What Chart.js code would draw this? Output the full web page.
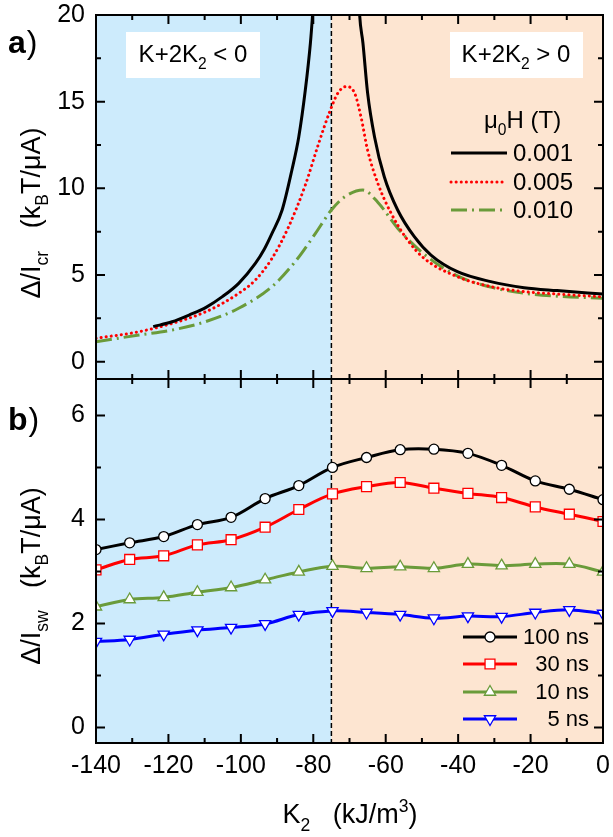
<!DOCTYPE html>
<html>
<head>
<meta charset="utf-8">
<script src="https://cdn.jsdelivr.net/npm/chart.js@4.4.1/dist/chart.umd.min.js"></script>
<style>
  html, body { margin: 0; padding: 0; background: #fff; }
  #wrap { position: relative; width: 613px; height: 837px; overflow: hidden; }
  canvas { position: absolute; left: 0; }
  #chartA { top: 0; }
  #chartB { top: 370px; }
</style>
</head>
<body>
<div id="wrap">
  <canvas id="chartA" width="613" height="400"></canvas>
  <canvas id="chartB" width="613" height="467"></canvas>
</div>
<script>
// shared x axis: K2 (kJ/m3)
const xTicks = [-140, -120, -100, -80, -60, -40, -20, 0];
const yTicksA = [0, 5, 10, 15, 20];
const yTicksB = [0, 2, 4, 6];
const boundaryK2 = -75;

// panel a: critical current curves, one per field mu0H (T)
const fieldLabels = ['0.001', '0.005', '0.010'];
const k2Black = [-124.2, -119, -114.3, -109.5, -105.1, -100.6, -96, -93.5, -91.4, -88.6, -85.9, -84, -82.2, -80.8, -80.2, -79.6,
                 -74,
                 -67.6, -67.2, -66.3, -65, -63.1, -60.4, -56.7, -52.1, -47.5, -40.2, -31, -21.8, -12.7, 0];
const critBlack = [2.02, 2.3, 2.69, 3.15, 3.75, 4.52, 5.67, 6.5, 7.4, 8.75, 11.06, 12.98, 15.67, 18.37, 20, 22,
                   null,
                   22, 20, 18.4, 15.5, 12.98, 10.67, 8.75, 7.21, 6.15, 5.19, 4.62, 4.27, 4.1, 3.9];
const k2Red = [-140, -128.1, -118.9, -109.7, -100.6, -96, -91.4, -86.8, -82.2, -78.5, -75.5, -73.2, -70.9, -68.6, -66.8,
               -65, -62.2, -58.5, -53.9, -49.4, -40.2, -31, -21.8, -12.7, 0];
const critRed = [1.35, 1.73, 2.21, 2.88, 3.94, 4.71, 5.96, 7.79, 10.19, 12.6, 14.4, 15.5, 15.87, 15.5, 14.1,
                 12.2, 10.3, 8.56, 7.0, 5.96, 4.9, 4.33, 4.04, 3.9, 3.74];
const k2Green = [-140, -128.1, -118.9, -109.7, -100.6, -91.4, -85, -79.4, -75, -71.4, -66.3, -62.2, -56.7, -49.4,
                 -40.2, -31, -21.8, -12.7, 0];
const critGreen = [1.15, 1.54, 1.83, 2.31, 3.08, 4.33, 5.77, 7.4, 8.75, 9.5, 9.9, 9.2, 7.7, 6.2,
                   4.95, 4.3, 3.95, 3.78, 3.66];

// panel b: switching current for pulse widths
const pulseLabels = ['100 ns', '30 ns', '10 ns', '5 ns'];
const k2B = [-140, -130.7, -121.3, -112, -102.7, -93.3, -84, -74.7, -65.3, -56, -46.7, -37.3, -28, -18.7, -9.3, 0];
const sw100 = [3.42, 3.55, 3.67, 3.90, 4.04, 4.40, 4.65, 5.00, 5.19, 5.34, 5.35, 5.27, 5.04, 4.74, 4.58, 4.38];
const sw30 = [3.03, 3.23, 3.30, 3.51, 3.61, 3.85, 4.19, 4.49, 4.63, 4.71, 4.60, 4.50, 4.42, 4.24, 4.10, 3.96];
const sw10 = [2.32, 2.46, 2.50, 2.60, 2.69, 2.84, 2.99, 3.10, 3.06, 3.09, 3.06, 3.14, 3.11, 3.14, 3.14, 2.99];
const sw5 = [1.65, 1.69, 1.79, 1.87, 1.92, 1.99, 2.17, 2.24, 2.21, 2.17, 2.10, 2.14, 2.13, 2.21, 2.26, 2.19];

const FONT = '"Liberation Sans", Arial, sans-serif';
const BLUE_BG = '#cdebfc';
const PEACH_BG = '#fde5d1';
const GREEN = '#6a9b3a';

function pts(xs, ys) {
    return xs.map((x, i) => ({ x: x, y: ys[i] }));
}

// text with sub/superscripts; parts = [[text, 'sub'|'sup'|null], ...]
function richText(ctx, parts, x, y, size, align) {
    let w = 0;
    const seg = parts.map(([t, m]) => {
        const s = m ? size * 0.65 : size;
        ctx.font = s + 'px ' + FONT;
        const sw = ctx.measureText(t).width;
        w += sw;
        return { t, m, s, sw };
    });
    let cx = align === 'center' ? x - w / 2 : (align === 'right' ? x - w : x);
    ctx.textAlign = 'left';
    ctx.textBaseline = 'alphabetic';
    seg.forEach(p => {
        ctx.font = p.s + 'px ' + FONT;
        const dy = p.m === 'sub' ? size * 0.28 : (p.m === 'sup' ? -size * 0.42 : 0);
        ctx.fillText(p.t, cx, y + dy);
        cx += p.sw;
    });
    return w;
}

function minorsOf(majors, lo, hi) {
    const out = [];
    const step = majors[1] - majors[0];
    for (let i = 0; i < majors.length; i++) {
        const m = majors[i] + step / 2;
        if (m > lo && m < hi) out.push(m);
        const n = majors[i] - step / 2;
        if (i === 0 && n > lo && n < hi) out.push(n);
    }
    return out;
}

function drawFrameAndTicks(chart, yTicks) {
    const { ctx, chartArea: a, scales: { x, y } } = chart;
    ctx.save();
    ctx.strokeStyle = '#000';
    ctx.lineWidth = 2;
    ctx.setLineDash([]);
    ctx.beginPath();
    const tick = (vals, len, scale, horiz) => {
        vals.forEach(v => {
            const p = scale.getPixelForValue(v);
            if (horiz) {
                ctx.moveTo(p, a.bottom); ctx.lineTo(p, a.bottom - len);
                ctx.moveTo(p, a.top); ctx.lineTo(p, a.top + len);
            } else {
                ctx.moveTo(a.left, p); ctx.lineTo(a.left + len, p);
                ctx.moveTo(a.right, p); ctx.lineTo(a.right - len, p);
            }
        });
    };
    tick(xTicks, 9, x, true);
    tick(minorsOf(xTicks, x.min, x.max), 5, x, true);
    tick(yTicks, 9, y, false);
    tick(minorsOf(yTicks, y.min, y.max), 5, y, false);
    ctx.stroke();
    ctx.strokeRect(a.left, a.top, a.right - a.left, a.bottom - a.top);
    ctx.restore();
}

function regionsPlugin(id) {
    return {
        id: id,
        beforeDatasetsDraw(chart) {
            const { ctx, chartArea: a, scales: { x } } = chart;
            const xb = x.getPixelForValue(boundaryK2);
            ctx.save();
            ctx.fillStyle = BLUE_BG;
            ctx.fillRect(a.left, a.top, xb - a.left, a.bottom - a.top);
            ctx.fillStyle = PEACH_BG;
            ctx.fillRect(xb, a.top, a.right - xb, a.bottom - a.top);
            ctx.strokeStyle = '#000';
            ctx.lineWidth = 1.5;
            ctx.setLineDash([5, 3]);
            ctx.beginPath();
            ctx.moveTo(xb, a.top);
            ctx.lineTo(xb, a.bottom);
            ctx.stroke();
            ctx.restore();
        }
    };
}

function yTitle(ctx, parts, cx, cy, size) {
    ctx.save();
    ctx.translate(cx, cy);
    ctx.rotate(-Math.PI / 2);
    ctx.fillStyle = '#000';
    richText(ctx, parts, 0, 0, size, 'center');
    ctx.restore();
}

function panelLabel(ctx, letter, x, y) {
    ctx.save();
    ctx.fillStyle = '#000';
    ctx.textAlign = 'left';
    ctx.textBaseline = 'alphabetic';
    ctx.font = 'bold 32px ' + FONT;
    ctx.fillText(letter, x, y);
    const w = ctx.measureText(letter).width;
    ctx.font = '32px ' + FONT;
    ctx.fillText(')', x + w + 1, y);
    ctx.restore();
}

const decorA = {
    id: 'decorA',
    afterDraw(chart) {
        const ctx = chart.ctx;
        drawFrameAndTicks(chart, yTicksA);
        ctx.save();
        // region boxes
        ctx.fillStyle = '#fff';
        ctx.fillRect(126, 32, 134, 46);
        ctx.fillRect(450, 32, 133, 46);
        ctx.fillStyle = '#000';
        richText(ctx, [['K+2K', null], ['2', 'sub'], [' < 0', null]], 193, 62, 24, 'center');
        richText(ctx, [['K+2K', null], ['2', 'sub'], [' > 0', null]], 516, 62, 24, 'center');
        // legend
        richText(ctx, [['\u03bc', null], ['0', 'sub'], ['H (T)', null]], 484, 128, 24, 'left');
        const rows = [153, 182, 210];
        chart.data.datasets.forEach((ds, i) => {
            ctx.strokeStyle = ds.borderColor;
            ctx.lineWidth = ds.borderWidth;
            ctx.lineCap = ds.borderCapStyle || 'butt';
            ctx.setLineDash(ds.borderDash || []);
            ctx.beginPath();
            ctx.moveTo(451, rows[i]);
            ctx.lineTo(507, rows[i]);
            ctx.stroke();
            ctx.setLineDash([]);
            ctx.fillStyle = '#000';
            ctx.font = '24px ' + FONT;
            ctx.textAlign = 'left';
            ctx.textBaseline = 'middle';
            ctx.fillText(ds.label, 513, rows[i] + 1);
        });
        ctx.restore();
        yTitle(ctx, [['\u0394/I', null], ['cr', 'sub'], ['   (k', null], ['B', 'sub'], ['T/\u03bcA)', null]], 40, 213, 27);
        panelLabel(ctx, 'a', 8, 53);
    }
};

const decorB = {
    id: 'decorB',
    afterDraw(chart) {
        const ctx = chart.ctx;
        drawFrameAndTicks(chart, yTicksB);
        ctx.save();
        const rows = [267, 294, 322, 349];
        chart.data.datasets.forEach((ds, i) => {
            ctx.strokeStyle = ds.borderColor;
            ctx.lineWidth = ds.borderWidth;
            ctx.beginPath();
            ctx.moveTo(463, rows[i]);
            ctx.lineTo(517, rows[i]);
            ctx.stroke();
            ctx.fillStyle = ds.pointBackgroundColor;
            ctx.strokeStyle = ds.pointBorderColor;
            ctx.lineWidth = ds.pointBorderWidth;
            Chart.helpers.drawPoint(ctx, {
                pointStyle: ds.pointStyle,
                rotation: ds.pointRotation || 0,
                radius: ds.pointRadius,
                borderWidth: ds.pointBorderWidth
            }, 490, rows[i]);
            ctx.fillStyle = '#000';
            ctx.font = '22px ' + FONT;
            ctx.textAlign = 'right';
            ctx.textBaseline = 'middle';
            ctx.fillText(ds.label, 589, rows[i] + 1);
        });
        ctx.restore();
        yTitle(ctx, [['\u0394/I', null], ['sw', 'sub'], ['   (k', null], ['B', 'sub'], ['T/\u03bcA)', null]], 40, 206, 27);
        panelLabel(ctx, 'b', 8, 60);
        ctx.save();
        ctx.fillStyle = '#000';
        richText(ctx, [['K', null], ['2', 'sub'], ['   (kJ/m', null], ['3', 'sup'], [')', null]], 350, 453, 27, 'center');
        ctx.restore();
    }
};

// scales keep no label overhang of their own; fitArea places the plot box
function noOverhang(s) {
    s.paddingTop = 0;
    s.paddingBottom = 0;
    s.paddingLeft = 0;
    s.paddingRight = 0;
}

function scalesFor(yMin, yMax, yTicks, showX) {
    return {
        x: {
            type: 'linear',
            min: -140,
            max: 0,
            display: showX,
            afterBuildTicks: s => { s.ticks = xTicks.map(v => ({ value: v })); },
            afterFit: noOverhang,
            grid: { display: false, drawTicks: false },
            border: { display: false },
            ticks: { color: '#000', padding: 11, maxRotation: 0, autoSkip: false,
                     font: { family: FONT, size: 25, lineHeight: 1 } }
        },
        y: {
            type: 'linear',
            min: yMin,
            max: yMax,
            afterBuildTicks: s => { s.ticks = yTicks.map(v => ({ value: v })); },
            afterFit: s => { noOverhang(s); s.width = 96; },
            grid: { display: false, drawTicks: false },
            border: { display: false },
            ticks: { color: '#000', padding: 11, font: { family: FONT, size: 25, lineHeight: 1 } }
        }
    };
}

// nudge layout padding until the plot area sits where the reference has it
function fitArea(chart, target) {
    for (let k = 0; k < 4; k++) {
        const a = chart.chartArea;
        const p = chart.options.layout.padding;
        p.left += target.left - a.left;
        p.top += target.top - a.top;
        p.right += a.right - target.right;
        p.bottom += a.bottom - target.bottom;
        chart.update('none');
    }
}

const lineA = (label, xs, ys, color, extra) => Object.assign({
    label: label,
    data: pts(xs, ys),
    borderColor: color,
    borderWidth: 3,
    pointRadius: 0,
    fill: false,
    spanGaps: false,
    cubicInterpolationMode: 'monotone',
    clip: 0
}, extra);

const chartA = new Chart(document.getElementById('chartA'), {
    type: 'line',
    data: {
        datasets: [
            lineA(fieldLabels[0], k2Black, critBlack, '#000', {}),
            lineA(fieldLabels[1], k2Red, critRed, '#ff0000', { borderDash: [0.1, 5], borderCapStyle: 'round', borderWidth: 3 }),
            lineA(fieldLabels[2], k2Green, critGreen, GREEN, { borderDash: [16, 5, 2, 5] })
        ]
    },
    options: {
        responsive: false,
        animation: false,
        devicePixelRatio: 1,
        layout: { padding: { top: 15, right: 10, bottom: 21, left: 0 } },
        plugins: { legend: { display: false }, tooltip: { enabled: false } },
        scales: scalesFor(-1, 20, yTicksA, false)
    },
    plugins: [regionsPlugin('regionsA'), decorA]
});
fitArea(chartA, { left: 96, top: 15, right: 603, bottom: 379 });

const lineB = (label, ys, color, style, rot, r) => ({
    label: label,
    data: pts(k2B, ys),
    borderColor: color,
    borderWidth: 3,
    pointStyle: style,
    pointRotation: rot,
    pointRadius: r,
    pointBackgroundColor: '#fff',
    pointBorderColor: color,
    pointBorderWidth: 1.3,
    tension: 0.35,
    fill: false,
    clip: 0
});

const chartB = new Chart(document.getElementById('chartB'), {
    type: 'line',
    data: {
        datasets: [
            lineB(pulseLabels[0], sw100, '#000', 'circle', 0, 5),
            lineB(pulseLabels[1], sw30, '#ff0000', 'rect', 0, 7),
            lineB(pulseLabels[2], sw10, GREEN, 'triangle', 0, 6.5),
            lineB(pulseLabels[3], sw5, '#0000ff', 'triangle', 180, 6.5)
        ]
    },
    options: {
        responsive: false,
        animation: false,
        devicePixelRatio: 1,
        layout: { padding: { top: 9, right: 10, bottom: 0, left: 0 } },
        plugins: { legend: { display: false }, tooltip: { enabled: false } },
        scales: scalesFor(-0.3, 6.7, yTicksB, true)
    },
    plugins: [regionsPlugin('regionsB'), decorB]
});
fitArea(chartB, { left: 96, top: 9, right: 603, bottom: 373 });
</script>
</body>
</html>
